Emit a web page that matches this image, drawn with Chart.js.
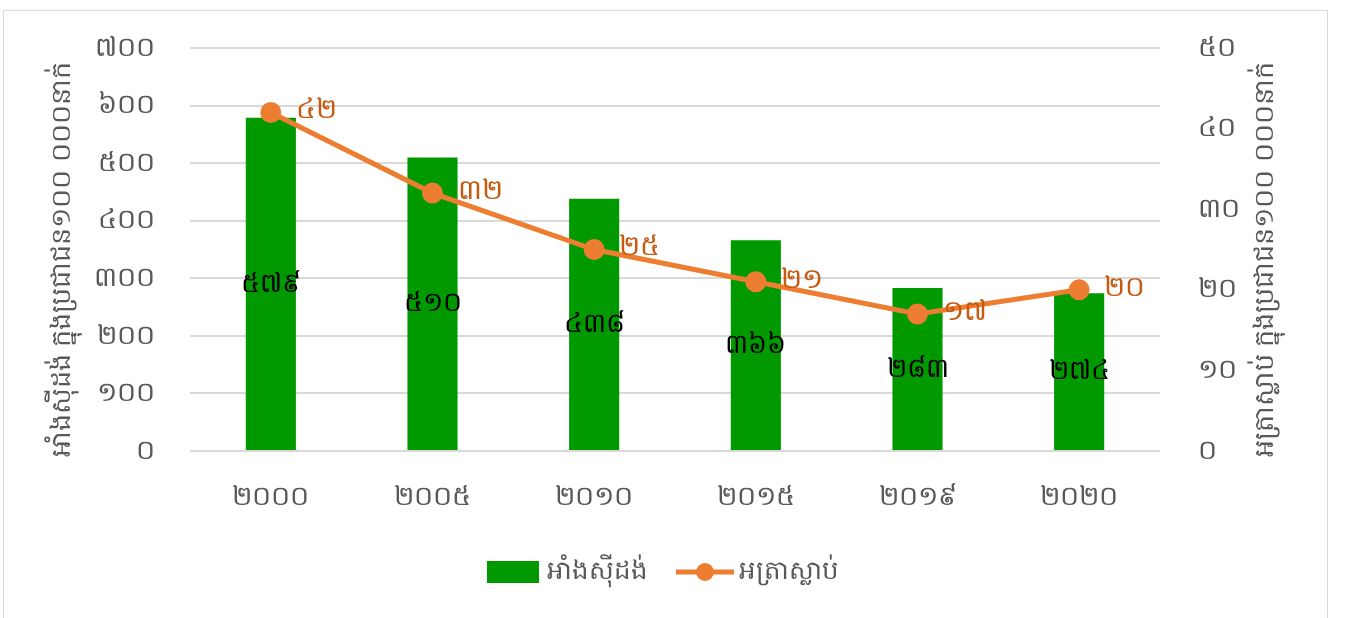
<!DOCTYPE html>
<html lang="km">
<head>
    <meta charset="UTF-8">
    <title>អាំងស៊ីដង់ និង អត្រាស្លាប់</title>
    <script src="https://cdn.jsdelivr.net/npm/chart.js"></script>
    <style>
        body {
            margin: 0;
            background-color: #ffffff;
            font-family: "Noto Sans", sans-serif;
        }
        .frame {
            position: absolute;
            left: 3px;
            top: 10px;
            width: 1323px;
            height: 620px;
            border: 1px solid #d9d9d9;
        }
        .frame canvas {
            display: block;
        }
    </style>
</head>
<body>
    <div class="frame">
        <canvas id="incChart" width="1323" height="607"></canvas>
    </div>

    <script>
        // ទិន្នន័យ
        const years = ['២០០០', '២០០៥', '២០១០', '២០១៥', '២០១៩', '២០២០'];
        const incidence = [579, 510, 438, 366, 283, 274];
        const mortality = [42, 32, 25, 21, 17, 20];
        const seriesNames = ['អាំងស៊ីដង់', 'អត្រាស្លាប់'];
        const leftTitle = 'អាំងស៊ីដង់ ក្នុងប្រជាជន១០០ ០០០នាក់';
        const rightTitle = 'អត្រាស្លាប់ ក្នុងប្រជាជន១០០ ០០០នាក់';
        const leftMax = 700, leftStep = 100;
        const rightMax = 50, rightStep = 10;

        const FONT = '"Noto Sans", "DejaVu Sans", sans-serif';
        const GREEN = '#009900';
        const ORANGE = '#ED7D31';
        const GREY = '#595959';

        const km = n => String(n).replace(/\d/g, d => '០១២៣៤៥៦៧៨៩'[d]);

        // រូបសញ្ញាសម្រាប់ legend
        function legendBox() {
            const c = document.createElement('canvas');
            c.width = 52; c.height = 22;
            const g = c.getContext('2d');
            g.fillStyle = GREEN;
            g.fillRect(0, 0, 52, 22);
            return c;
        }
        function legendLine() {
            const c = document.createElement('canvas');
            c.width = 58; c.height = 22;
            const g = c.getContext('2d');
            g.strokeStyle = ORANGE;
            g.lineWidth = 5;
            g.beginPath(); g.moveTo(0, 11); g.lineTo(58, 11); g.stroke();
            g.fillStyle = ORANGE;
            g.beginPath(); g.arc(29, 11, 9, 0, Math.PI * 2); g.fill();
            return c;
        }
        const boxImg = legendBox();
        const lineImg = legendLine();

        // ស្លាកតម្លៃ និង ចំណងជើងអ័ក្ស
        const labelPlugin = {
            id: 'labels',
            afterDatasetsDraw(chart) {
                const ctx = chart.ctx;
                ctx.save();
                ctx.textBaseline = 'middle';

                const bars = chart.getDatasetMeta(1).data;
                ctx.font = '27px ' + FONT;
                ctx.fillStyle = '#000000';
                ctx.textAlign = 'center';
                bars.forEach((b, i) => {
                    ctx.fillText(km(incidence[i]), b.x, (b.y + b.base) / 2);
                });

                const pts = chart.getDatasetMeta(0).data;
                ctx.font = '28px ' + FONT;
                ctx.fillStyle = '#C55A11';
                ctx.textAlign = 'left';
                pts.forEach((p, i) => {
                    ctx.fillText(km(mortality[i]), p.x + 25, p.y - 2);
                });

                // ចំណងជើងអ័ក្ស
                const area = chart.chartArea;
                const midY = (area.top + area.bottom) / 2 + 10;
                ctx.fillStyle = GREY;
                ctx.font = '27px ' + FONT;
                ctx.textAlign = 'center';
                [[58, leftTitle], [1261, rightTitle]].forEach(([x, t]) => {
                    ctx.save();
                    ctx.translate(x, midY);
                    ctx.rotate(-Math.PI / 2);
                    ctx.fillText(t, 0, 0);
                    ctx.restore();
                });
                ctx.restore();
            }
        };

        const ctx = document.getElementById('incChart').getContext('2d');
        new Chart(ctx, {
            data: {
                labels: years,
                datasets: [{
                    type: 'line',
                    label: seriesNames[1],
                    data: mortality,
                    yAxisID: 'y2',
                    borderColor: ORANGE,
                    backgroundColor: ORANGE,
                    borderWidth: 5,
                    pointRadius: 8,
                    pointHoverRadius: 8,
                    tension: 0,
                    order: 0
                }, {
                    type: 'bar',
                    label: seriesNames[0],
                    data: incidence,
                    yAxisID: 'y',
                    backgroundColor: GREEN,
                    categoryPercentage: 1,
                    barPercentage: 0.31,
                    order: 1
                }]
            },
            options: {
                responsive: false,
                animation: false,
                layout: { padding: { top: 37, left: 0, right: 0, bottom: 23 } },
                plugins: {
                    tooltip: { enabled: false },
                    legend: {
                        position: 'bottom',
                        reverse: true,
                        labels: {
                            usePointStyle: true,
                            pointStyleWidth: 42,
                            color: GREY,
                            font: { family: FONT, size: 26 },
                            padding: 36,
                            generateLabels(chart) {
                                const items = Chart.defaults.plugins.legend.labels.generateLabels(chart);
                                items.forEach(it => {
                                    it.pointStyle = it.datasetIndex === 1 ? boxImg : lineImg;
                                });
                                return items;
                            }
                        }
                    }
                },
                scales: {
                    x: {
                        grid: { display: false },
                        border: { display: false },
                        ticks: { color: GREY, font: { family: FONT, size: 27 }, padding: 22 },
                        afterFit(scale) { scale.height = 72; }
                    },
                    y: {
                        position: 'left',
                        min: 0, max: leftMax,
                        grid: { color: '#d9d9d9', lineWidth: 2, tickLength: 35, tickColor: 'transparent' },
                        border: { display: false },
                        ticks: {
                            stepSize: leftStep,
                            padding: 0,
                            color: GREY,
                            font: { family: FONT, size: 27 },
                            callback: v => km(v)
                        },
                        afterFit(scale) { scale.width = 186; }
                    },
                    y2: {
                        position: 'right',
                        min: 0, max: rightMax,
                        grid: { drawOnChartArea: false, color: 'transparent', tickLength: 38, tickColor: 'transparent' },
                        border: { display: false },
                        ticks: {
                            stepSize: rightStep,
                            padding: 0,
                            color: GREY,
                            font: { family: FONT, size: 27 },
                            callback: v => km(v)
                        },
                        afterFit(scale) { scale.width = 167; }
                    }
                }
            },
            plugins: [labelPlugin]
        });
    </script>
</body>
</html>
